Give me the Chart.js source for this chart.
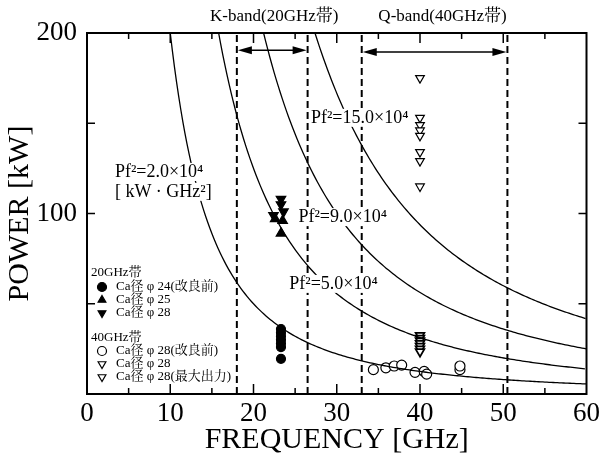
<!DOCTYPE html>
<html>
<head>
<meta charset="utf-8">
<script src="https://cdn.jsdelivr.net/npm/chart.js@4.4.1/dist/chart.umd.min.js"></script>
<style>
html, body { margin: 0; padding: 0; background: #fff; }
</style>
</head>
<body>
<canvas id="powerChart" width="604" height="457"></canvas>
<script>
// band edges [GHz]: K-band 18-26.5, Q-band 33-50.5
var bandEdges = [18, 26.5, 33, 50.5];
// Pf^2 constants [kW GHz^2]
var pf2Consts = [2.0e4, 5.0e4, 9.0e4, 15.0e4];
var pf2Labels = ["Pf\u00b2=2.0\u00d710\u2074", "Pf\u00b2=5.0\u00d710\u2074", "Pf\u00b2=9.0\u00d710\u2074", "Pf\u00b2=15.0\u00d710\u2074"];

// 20GHz band
var k24Freq = [23.3, 23.3, 23.3, 23.3, 23.3, 23.3, 23.3];
var k24Power = [36, 34, 32, 30, 28, 26, 19.5];
var k25Freq = [22.6, 23.5, 23.3];
var k25Power = [97, 96, 89];
var k28Freq = [23.3, 23.3, 22.4, 23.6];
var k28Power = [108, 105, 99, 101];

// 40GHz band
var q28oldFreq = [34.4, 35.9, 36.9, 37.8, 39.4, 40.5, 40.8, 44.8, 44.8];
var q28oldPower = [13.5, 14.5, 15.5, 16, 12, 12.5, 11, 13.5, 15.5];
var q28Freq = [40, 40, 40, 40, 40, 40, 40];
var q28Power = [32.5, 31, 29.5, 28, 26.5, 25, 23.5];
var q28maxFreq = [40, 40, 40, 40, 40, 40, 40, 40];
var q28maxPower = [175, 153, 149, 146, 143, 134, 129, 115];

var xTicks = [0, 10, 20, 30, 40, 50, 60];
var yTicks = [100, 200];

var serif = "'Liberation Serif', 'Noto Serif CJK JP', 'Noto Sans CJK JP', serif";

function pts(xs, ys) {
    return xs.map(function(x, i) { return { x: x, y: ys[i] }; });
}

function pf2Curve(k) {
    var out = [];
    var f0 = Math.sqrt(k / 200);
    for (var f = f0; f <= 60.001; f += 0.25) {
        out.push({ x: f, y: k / (f * f) });
    }
    return out;
}

var datasets = [];
pf2Consts.forEach(function(k) {
    datasets.push({ data: pf2Curve(k), showLine: true, pointRadius: 0, borderColor: '#000', borderWidth: 1.3, tension: 0 });
});
bandEdges.forEach(function(f) {
    datasets.push({ data: [{ x: f, y: 0 }, { x: f, y: 200 }], showLine: true, pointRadius: 0, borderColor: '#000', borderWidth: 2, borderDash: [7, 4] });
});

var markerStyles = {
    k24: { pointStyle: 'circle', radius: 4.5, rotation: 0, backgroundColor: '#000', borderColor: '#000' },
    k25: { pointStyle: 'triangle', radius: 5.5, rotation: 0, backgroundColor: '#000', borderColor: '#000' },
    k28: { pointStyle: 'triangle', radius: 5.5, rotation: 180, backgroundColor: '#000', borderColor: '#000' },
    q28old: { pointStyle: 'circle', radius: 5, rotation: 0, backgroundColor: '#fff', borderColor: '#000' },
    q28: { pointStyle: 'triangle', radius: 5, rotation: 180, backgroundColor: '#fff', borderColor: '#000' },
    q28max: { pointStyle: 'triangle', radius: 5, rotation: 180, backgroundColor: '#fff', borderColor: '#000' }
};

function markerSet(xs, ys, m, bw) {
    return { data: pts(xs, ys), showLine: false, pointStyle: m.pointStyle, pointRadius: m.radius, pointRotation: m.rotation,
             pointBackgroundColor: m.backgroundColor, pointBorderColor: m.borderColor, pointBorderWidth: bw || 1.2 };
}
datasets.push(markerSet(q28oldFreq, q28oldPower, markerStyles.q28old));
datasets.push(markerSet(q28Freq, q28Power, markerStyles.q28, 1.8));
datasets.push(markerSet(q28maxFreq, q28maxPower, markerStyles.q28max));
datasets.push(markerSet(k24Freq, k24Power, markerStyles.k24));
datasets.push(markerSet(k25Freq, k25Power, markerStyles.k25));
datasets.push(markerSet(k28Freq, k28Power, markerStyles.k28));

function arrowHead(ctx, x, y, dir) {
    ctx.beginPath();
    ctx.moveTo(x, y);
    ctx.lineTo(x + dir * 14, y - 4);
    ctx.lineTo(x + dir * 14, y + 4);
    ctx.closePath();
    ctx.fill();
}

function labelBox(ctx, text, x, y) {
    var w = ctx.measureText(text).width;
    ctx.fillStyle = '#fff';
    ctx.fillRect(x - 1, y - 9, w + 2, 18);
    ctx.fillStyle = '#000';
    ctx.fillText(text, x, y);
}

var overlayPlugin = {
    id: 'overlay',
    afterDatasetsDraw: function(chart) {
        var ctx = chart.ctx, xs = chart.scales.x, ys = chart.scales.y, a = chart.chartArea;
        ctx.save();
        // frame
        ctx.strokeStyle = '#000';
        ctx.lineWidth = 2;
        ctx.strokeRect(a.left, a.top, a.right - a.left, a.bottom - a.top);
        // inward ticks
        ctx.lineWidth = 1.5;
        ctx.beginPath();
        for (var f = 5; f < 60; f += 5) {
            var px = xs.getPixelForValue(f);
            var len = f % 10 === 0 ? 10 : 6;
            ctx.moveTo(px, a.bottom); ctx.lineTo(px, a.bottom - len);
            ctx.moveTo(px, a.top); ctx.lineTo(px, a.top + len);
        }
        for (var p = 50; p < 200; p += 50) {
            var py = ys.getPixelForValue(p);
            ctx.moveTo(a.left, py); ctx.lineTo(a.left + 8, py);
            ctx.moveTo(a.right, py); ctx.lineTo(a.right - 8, py);
        }
        ctx.stroke();

        // band arrows
        ctx.fillStyle = '#000';
        ctx.lineWidth = 1.5;
        [[bandEdges[0], bandEdges[1], 190.5], [bandEdges[2], bandEdges[3], 189.5]].forEach(function(b) {
            var x1 = xs.getPixelForValue(b[0]) + 1, x2 = xs.getPixelForValue(b[1]) - 1, y = ys.getPixelForValue(b[2]);
            ctx.beginPath(); ctx.moveTo(x1 + 10, y); ctx.lineTo(x2 - 10, y); ctx.stroke();
            arrowHead(ctx, x1, y, 1);
            arrowHead(ctx, x2, y, -1);
        });

        // band titles above the frame
        ctx.font = '17px ' + serif;
        ctx.textAlign = 'center';
        ctx.textBaseline = 'middle';
        ctx.fillText('K-band(20GHz\u5e2f)', (xs.getPixelForValue(bandEdges[0]) + xs.getPixelForValue(bandEdges[1])) / 2 + 2, 17);
        ctx.fillText('Q-band(40GHz\u5e2f)', (xs.getPixelForValue(bandEdges[2]) + xs.getPixelForValue(bandEdges[3])) / 2 + 8, 17);

        // curve labels
        ctx.font = '18px ' + serif;
        ctx.textAlign = 'left';
        var lblPos = [[3.35, 123], [24.3, 61], [25.4, 98], [26.9, 153]];
        pf2Labels.forEach(function(t, i) {
            labelBox(ctx, t, xs.getPixelForValue(lblPos[i][0]), ys.getPixelForValue(lblPos[i][1]));
        });
        labelBox(ctx, '[ kW \u00b7 GHz\u00b2]', xs.getPixelForValue(3.35), ys.getPixelForValue(112));

        // legend
        var lx = a.left + 4;
        ctx.font = '13px ' + serif;
        var rows = [
            { y: 273, text: '20GHz\u5e2f' },
            { y: 287, text: 'Ca\u5f84 \u03c6 24(\u6539\u826f\u524d)', m: markerStyles.k24 },
            { y: 300, text: 'Ca\u5f84 \u03c6 25', m: markerStyles.k25 },
            { y: 313, text: 'Ca\u5f84 \u03c6 28', m: markerStyles.k28 },
            { y: 338, text: '40GHz\u5e2f' },
            { y: 351, text: 'Ca\u5f84 \u03c6 28(\u6539\u826f\u524d)', m: markerStyles.q28old },
            { y: 364, text: 'Ca\u5f84 \u03c6 28', m: markerStyles.q28 },
            { y: 377, text: 'Ca\u5f84 \u03c6 28(\u6700\u5927\u51fa\u529b)', m: markerStyles.q28max }
        ];
        rows.forEach(function(r) {
            if (r.m) {
                ctx.fillStyle = r.m.backgroundColor;
                ctx.strokeStyle = r.m.borderColor;
                ctx.lineWidth = 1.2;
                Chart.helpers.drawPoint(ctx, { pointStyle: r.m.pointStyle, radius: 4.5, rotation: r.m.rotation, borderWidth: 1.2 }, lx + 11, r.y);
                ctx.fillStyle = '#000';
                ctx.fillText(r.text, lx + 25, r.y);
            } else {
                ctx.fillStyle = '#000';
                ctx.fillText(r.text, lx, r.y);
            }
        });
        ctx.restore();
    }
};

new Chart(document.getElementById('powerChart'), {
    type: 'scatter',
    data: { datasets: datasets },
    plugins: [overlayPlugin],
    options: {
        responsive: false,
        animation: false,
        layout: { padding: { top: 33, right: 16, left: 0, bottom: 0 } },
        plugins: { legend: { display: false }, tooltip: { enabled: false } },
        scales: {
            x: {
                type: 'linear', min: 0, max: 60,
                afterFit: function(s) { s.height = 63; },
                afterBuildTicks: function(s) { s.ticks = xTicks.map(function(v) { return { value: v }; }); },
                ticks: { color: '#000', padding: 4, maxRotation: 0, autoSkip: false, font: { family: serif, size: 27 } },
                grid: { display: false, drawTicks: false },
                border: { display: false },
                title: { display: true, text: 'FREQUENCY [GHz]', color: '#000', padding: 0, font: { family: serif, size: 30, lineHeight: 1.1 } }
            },
            y: {
                type: 'linear', min: 0, max: 200,
                afterFit: function(s) { s.width = 87; },
                afterBuildTicks: function(s) { s.ticks = yTicks.map(function(v) { return { value: v }; }); },
                ticks: { color: '#000', padding: 10, font: { family: serif, size: 27 } },
                grid: { display: false, drawTicks: false },
                border: { display: false },
                title: { display: true, text: 'POWER [kW]', color: '#000', padding: { top: 4, bottom: 0 }, font: { family: serif, size: 30, lineHeight: 1.1 } }
            }
        }
    }
});
</script>
</body>
</html>
